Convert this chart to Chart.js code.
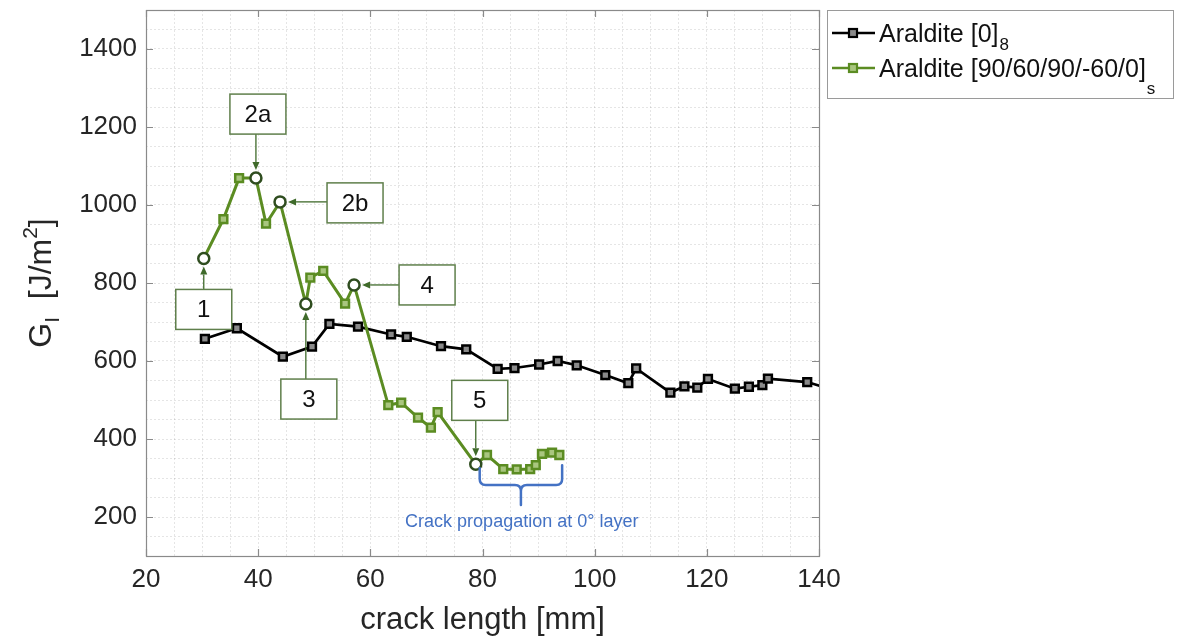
<!DOCTYPE html>
<html>
    <head>
        <meta charset="UTF-8" />
        <title>Mode I energy release rate</title>
        <script src="https://cdn.jsdelivr.net/npm/chart.js@4.4.2/dist/chart.umd.min.js"></script>
        <style>
            html,
            body {
                margin: 0;
                padding: 0;
                background: #ffffff;
            }

            #chart {
                display: block;
            }
        </style>
    </head>
    <body>
        <canvas id="chart" width="1182" height="641"></canvas>

        <script>
            // Araldite [0]8 specimen
            var crackLength0 = [30.5, 36.2, 44.4, 49.6, 52.7, 57.8, 63.7, 66.5, 72.6, 77.1, 82.7, 85.7, 90.1, 93.4, 96.8, 101.9, 106.0, 107.4, 113.5, 116.0, 118.3, 120.2, 125.0, 127.5, 129.9, 130.9, 137.9, 144.0];
            var energy0 = [657, 684, 611, 637, 695, 688, 668, 662, 638, 630, 580, 582, 591, 600, 589, 564, 543, 581, 519, 535, 532, 554, 529, 534, 538, 555, 546, 519];

            // Araldite [90/60/90/-60/0]s specimen
            var crackLengthQI = [30.3, 33.8, 36.6, 39.6, 41.4, 43.9, 48.5, 49.3, 51.6, 55.5, 57.1, 63.2, 65.5, 68.5, 70.8, 72.0, 78.8, 80.8, 83.7, 86.1, 88.5, 89.5, 90.6, 92.4, 93.7];
            var energyQI = [863, 964, 1069, 1069, 952, 1008, 746, 814, 831, 747, 795, 487, 493, 455, 429, 469, 335, 359, 323, 322, 323, 333, 362, 365, 359];

            // points of the second specimen with a numbered callout
            var calloutLabels = ["1", "2a", "2b", "3", "4", "5"];
            var calloutIdx = [0, 3, 5, 6, 10, 16];

            var xTicks = [20, 40, 60, 80, 100, 120, 140];
            var yTicks = [200, 400, 600, 800, 1000, 1200, 1400];

            var seriesNames = ["Araldite [0]", "Araldite [90/60/90/-60/0]"];
            var seriesSubs = ["8", "s"];
            var braceText = "Crack propagation at 0\u00b0 layer";

            var FONT = '"Liberation Sans", Arial, Helvetica, sans-serif';
            var TEXT = "#262626";
            var GREEN = "#5b8c22";
            var GREEN_DARK = "#2f4d1f";
            var BOX_GREEN = "#5f7f4b";
            var BLUE = "#4472c4";

            function toPoints(xs, ys) {
                var pts = [];
                for (var i = 0; i < xs.length; i++) {
                    pts.push({ x: xs[i], y: ys[i] });
                }
                return pts;
            }

            function isCallout(i) {
                return calloutIdx.indexOf(i) >= 0;
            }

            // --- drawing helpers ---

            function arrow(ctx, x0, y0, x1, y1) {
                var ang = Math.atan2(y1 - y0, x1 - x0);
                var len = 8,
                    half = 3.5;
                ctx.beginPath();
                ctx.moveTo(x0, y0);
                ctx.lineTo(x1 - Math.cos(ang) * len, y1 - Math.sin(ang) * len);
                ctx.stroke();
                ctx.beginPath();
                ctx.moveTo(x1, y1);
                ctx.lineTo(x1 - Math.cos(ang) * len - Math.sin(ang) * half, y1 - Math.sin(ang) * len + Math.cos(ang) * half);
                ctx.lineTo(x1 - Math.cos(ang) * len + Math.sin(ang) * half, y1 - Math.sin(ang) * len - Math.cos(ang) * half);
                ctx.closePath();
                ctx.fill();
            }

            function drawFrame(chart) {
                var ctx = chart.ctx,
                    a = chart.chartArea,
                    xs = chart.scales.x,
                    ys = chart.scales.y,
                    t = 7;
                ctx.save();
                ctx.strokeStyle = "#8a8a8a";
                ctx.lineWidth = 1.2;
                ctx.beginPath();
                xTicks.forEach(function (v) {
                    var px = Math.round(xs.getPixelForValue(v)) + 0.5;
                    ctx.moveTo(px, a.bottom);
                    ctx.lineTo(px, a.bottom - t);
                    ctx.moveTo(px, a.top);
                    ctx.lineTo(px, a.top + t);
                });
                yTicks.forEach(function (v) {
                    var py = Math.round(ys.getPixelForValue(v)) + 0.5;
                    ctx.moveTo(a.left, py);
                    ctx.lineTo(a.left + t, py);
                    ctx.moveTo(a.right, py);
                    ctx.lineTo(a.right - t, py);
                });
                ctx.stroke();
                ctx.strokeRect(Math.round(a.left) + 0.5, Math.round(a.top) + 0.5, Math.round(a.right - a.left), Math.round(a.bottom - a.top));
                ctx.restore();
            }

            // box centre offsets from the marked point, in pixels
            var calloutOffsets = [
                [0, 51],
                [2, -64],
                [75, 1],
                [3, 95],
                [73, 0],
                [4, -64],
            ];

            function drawCallouts(chart) {
                var ctx = chart.ctx,
                    xs = chart.scales.x,
                    ys = chart.scales.y,
                    w = 56,
                    h = 40,
                    r = 8;
                ctx.save();
                for (var i = 0; i < calloutLabels.length; i++) {
                    var k = calloutIdx[i];
                    var px = xs.getPixelForValue(crackLengthQI[k]);
                    var py = ys.getPixelForValue(energyQI[k]);
                    var dx = calloutOffsets[i][0],
                        dy = calloutOffsets[i][1];
                    var bx = px + dx,
                        by = py + dy;

                    ctx.strokeStyle = "#3f6a2a";
                    ctx.fillStyle = "#3f6a2a";
                    ctx.lineWidth = 1.3;
                    if (Math.abs(dx) > Math.abs(dy)) {
                        arrow(ctx, bx - w / 2, py, px + r, py);
                    } else if (dy > 0) {
                        arrow(ctx, px, by - h / 2, px, py + r);
                    } else {
                        arrow(ctx, px, by + h / 2, px, py - r);
                    }

                    ctx.fillStyle = "#ffffff";
                    ctx.fillRect(bx - w / 2, by - h / 2, w, h);
                    ctx.strokeStyle = BOX_GREEN;
                    ctx.lineWidth = 1.5;
                    ctx.strokeRect(bx - w / 2, by - h / 2, w, h);

                    ctx.fillStyle = "#111111";
                    ctx.font = "24px " + FONT;
                    ctx.textAlign = "center";
                    ctx.textBaseline = "middle";
                    ctx.fillText(calloutLabels[i], bx, by + 1);
                }
                ctx.restore();
            }

            // curly brace under the tail of the second specimen
            function drawBrace(chart) {
                var ctx = chart.ctx,
                    xs = chart.scales.x,
                    ys = chart.scales.y;
                var xa = xs.getPixelForValue(79.5),
                    xb = xs.getPixelForValue(94.2);
                var yTop = ys.getPixelForValue(325),
                    yMid = ys.getPixelForValue(282),
                    yTip = ys.getPixelForValue(231);
                var xm = (xa + xb) / 2,
                    r = 6;
                ctx.save();
                ctx.strokeStyle = BLUE;
                ctx.lineWidth = 2.5;
                ctx.lineCap = "round";
                ctx.beginPath();
                ctx.moveTo(xa, yTop);
                ctx.lineTo(xa, yMid - r);
                ctx.quadraticCurveTo(xa, yMid, xa + r, yMid);
                ctx.lineTo(xm - r, yMid);
                ctx.quadraticCurveTo(xm, yMid, xm, yMid + r);
                ctx.lineTo(xm, yTip);
                ctx.moveTo(xm, yMid + r);
                ctx.quadraticCurveTo(xm, yMid, xm + r, yMid);
                ctx.lineTo(xb - r, yMid);
                ctx.quadraticCurveTo(xb, yMid, xb, yMid - r);
                ctx.lineTo(xb, yTop - 3);
                ctx.stroke();

                ctx.fillStyle = BLUE;
                ctx.font = "18px " + FONT;
                ctx.textAlign = "center";
                ctx.textBaseline = "middle";
                ctx.fillText(braceText, xs.getPixelForValue(87), ys.getPixelForValue(187));
                ctx.restore();
            }

            function drawTitles(chart) {
                var ctx = chart.ctx,
                    a = chart.chartArea;
                ctx.save();
                ctx.fillStyle = TEXT;
                ctx.font = "31px " + FONT;
                ctx.textAlign = "center";
                ctx.textBaseline = "middle";
                ctx.fillText("crack length [mm]", (a.left + a.right) / 2, 620);

                // G_I  [J/m^2], rotated
                var parts = [
                    { t: "G", size: 32, shift: 0 },
                    { t: "I", size: 21, shift: 8 },
                    { t: "  [J/m", size: 32, shift: 0 },
                    { t: "2", size: 21, shift: -14 },
                    { t: "]", size: 32, shift: 0 },
                ];
                var total = 0;
                parts.forEach(function (p) {
                    ctx.font = p.size + "px " + FONT;
                    p.w = ctx.measureText(p.t).width;
                    total += p.w;
                });
                ctx.translate(40, 283);
                ctx.rotate(-Math.PI / 2);
                ctx.textAlign = "left";
                ctx.textBaseline = "alphabetic";
                var x = -total / 2;
                parts.forEach(function (p) {
                    ctx.font = p.size + "px " + FONT;
                    ctx.fillText(p.t, x, 11 + p.shift);
                    x += p.w;
                });
                ctx.restore();
            }

            function drawLegend(chart) {
                var ctx = chart.ctx;
                var colors = ["#000000", GREEN];
                var fills = ["#8a8a8a", "#a9c67f"];
                var rows = [33, 68];
                var subShift = [8, 17];
                ctx.save();
                ctx.fillStyle = "#ffffff";
                ctx.fillRect(827.5, 10.5, 346, 88);
                ctx.strokeStyle = "#9a9a9a";
                ctx.lineWidth = 1;
                ctx.strokeRect(827.5, 10.5, 346, 88);
                for (var i = 0; i < seriesNames.length; i++) {
                    var y = rows[i];
                    ctx.strokeStyle = colors[i];
                    ctx.lineWidth = 2.5;
                    ctx.beginPath();
                    ctx.moveTo(832, y);
                    ctx.lineTo(875, y);
                    ctx.stroke();
                    ctx.fillStyle = fills[i];
                    ctx.fillRect(849, y - 4, 8, 8);
                    ctx.lineWidth = 2.2;
                    ctx.strokeRect(849, y - 4, 8, 8);

                    ctx.fillStyle = "#111111";
                    ctx.textAlign = "left";
                    ctx.textBaseline = "alphabetic";
                    ctx.font = "25px " + FONT;
                    ctx.fillText(seriesNames[i], 879, y + 9);
                    var w = ctx.measureText(seriesNames[i]).width;
                    ctx.font = "17px " + FONT;
                    ctx.fillText(seriesSubs[i], 879 + w + 1, y + 9 + subShift[i]);
                }
                ctx.restore();
            }

            var decorations = {
                id: "decorations",
                beforeDatasetsDraw: function (chart) {
                    drawFrame(chart);
                },
                afterDatasetsDraw: function (chart) {
                    drawCallouts(chart);
                    drawBrace(chart);
                },
                afterDraw: function (chart) {
                    drawTitles(chart);
                    drawLegend(chart);
                },
            };

            var gridOpts = {
                color: "rgba(0, 0, 0, 0.10)",
                lineWidth: 1,
                drawTicks: false,
            };

            var ctx = document.getElementById("chart").getContext("2d");
            var chart = new Chart(ctx, {
                type: "scatter",
                plugins: [decorations],
                data: {
                    datasets: [
                        {
                            label: seriesNames[1] + seriesSubs[1],
                            data: toPoints(crackLengthQI, energyQI),
                            showLine: true,
                            borderColor: GREEN,
                            borderWidth: 3,
                            pointStyle: crackLengthQI.map(function (v, i) {
                                return isCallout(i) ? "circle" : "rect";
                            }),
                            pointRadius: 5.5,
                            pointBackgroundColor: crackLengthQI.map(function (v, i) {
                                return isCallout(i) ? "#ffffff" : "#a9c67f";
                            }),
                            pointBorderColor: crackLengthQI.map(function (v, i) {
                                return isCallout(i) ? GREEN_DARK : GREEN;
                            }),
                            pointBorderWidth: 2.5,
                        },
                        {
                            label: seriesNames[0] + seriesSubs[0],
                            data: toPoints(crackLength0, energy0),
                            showLine: true,
                            borderColor: "#000000",
                            borderWidth: 2.7,
                            pointStyle: "rect",
                            pointRadius: 5.5,
                            pointBackgroundColor: "#8a8a8a",
                            pointBorderColor: "#000000",
                            pointBorderWidth: 2.5,
                        },
                    ],
                },
                options: {
                    responsive: false,
                    animation: false,
                    layout: {
                        padding: { left: 0, right: 363, top: 10, bottom: 0 },
                    },
                    plugins: {
                        legend: { display: false },
                        tooltip: { enabled: false },
                    },
                    scales: {
                        x: {
                            type: "linear",
                            min: 20,
                            max: 140,
                            grid: gridOpts,
                            border: { display: false, dash: [2, 2] },
                            ticks: {
                                stepSize: 5,
                                autoSkip: false,
                                maxRotation: 0,
                                padding: 8,
                                color: TEXT,
                                font: { family: FONT, size: 26 },
                                callback: function (v) {
                                    return xTicks.indexOf(v) >= 0 ? String(v) : "";
                                },
                            },
                            afterFit: function (scale) {
                                scale.height = 85;
                                scale.paddingLeft = 0;
                                scale.paddingRight = 0;
                            },
                        },
                        y: {
                            type: "linear",
                            min: 100,
                            max: 1500,
                            grid: gridOpts,
                            border: { display: false, dash: [2, 2] },
                            ticks: {
                                stepSize: 50,
                                autoSkip: false,
                                padding: 9,
                                color: TEXT,
                                font: { family: FONT, size: 26 },
                                callback: function (v) {
                                    return yTicks.indexOf(v) >= 0 ? String(v) : "";
                                },
                            },
                            afterFit: function (scale) {
                                scale.width = 146;
                                scale.paddingTop = 0;
                                scale.paddingBottom = 0;
                            },
                        },
                    },
                },
            });
        </script>
    </body>
</html>
